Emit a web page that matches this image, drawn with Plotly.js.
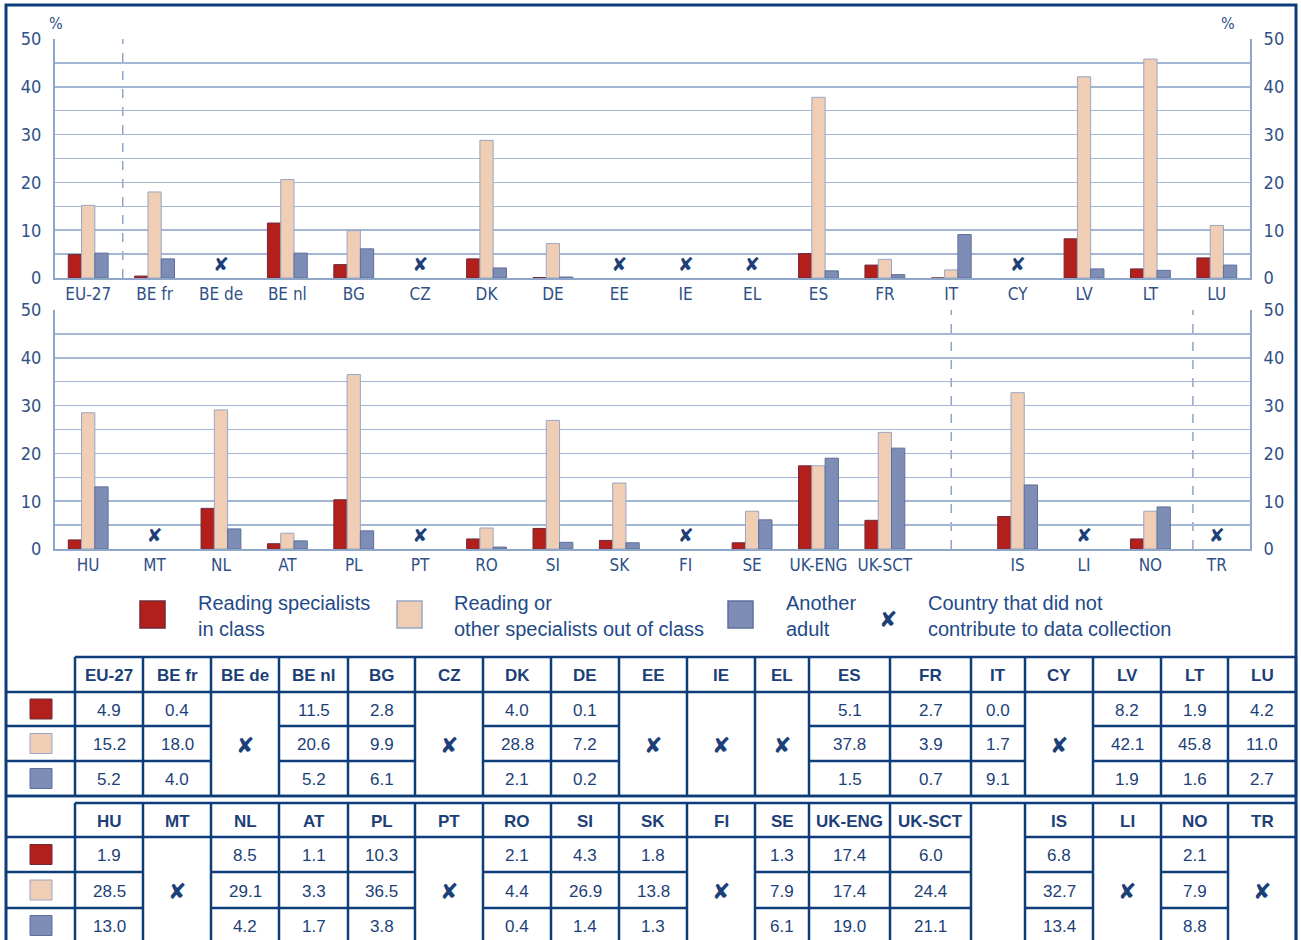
<!DOCTYPE html>
<html><head><meta charset="utf-8">
<script src="https://cdn.plot.ly/plotly-3.0.1.min.js"></script>
<style>html,body{margin:0;padding:0;background:#fff}#chart{width:1301px;height:940px}</style>
</head><body><div id="chart"></div>
<script>
// ---------------- DATA ----------------
const seriesNames = ["Reading specialists<br>in class", "Reading or<br>other specialists out of class", "Another<br>adult"];
const missingLabel = "Country that did not<br>contribute to data collection";

const catsTop = ["EU-27","BE fr","BE de","BE nl","BG","CZ","DK","DE","EE","IE","EL","ES","FR","IT","CY","LV","LT","LU"];
const inClassTop  = [4.9, 0.4, null, 11.5, 2.8, null, 4.0, 0.1, null, null, null, 5.1, 2.7, 0.0, null, 8.2, 1.9, 4.2];
const outClassTop = [15.2, 18.0, null, 20.6, 9.9, null, 28.8, 7.2, null, null, null, 37.8, 3.9, 1.7, null, 42.1, 45.8, 11.0];
const adultTop    = [5.2, 4.0, null, 5.2, 6.1, null, 2.1, 0.2, null, null, null, 1.5, 0.7, 9.1, null, 1.9, 1.6, 2.7];

// "" marks the empty separator slot
const catsBot = ["HU","MT","NL","AT","PL","PT","RO","SI","SK","FI","SE","UK-ENG","UK-SCT","","IS","LI","NO","TR"];
const inClassBot  = [1.9, null, 8.5, 1.1, 10.3, null, 2.1, 4.3, 1.8, null, 1.3, 17.4, 6.0, null, 6.8, null, 2.1, null];
const outClassBot = [28.5, null, 29.1, 3.3, 36.5, null, 4.4, 26.9, 13.8, null, 7.9, 17.4, 24.4, null, 32.7, null, 7.9, null];
const adultBot    = [13.0, null, 4.2, 1.7, 3.8, null, 0.4, 1.4, 1.3, null, 6.1, 19.0, 21.1, null, 13.4, null, 8.8, null];

const yTicks = [0, 10, 20, 30, 40, 50];

// ---------------- STYLE ----------------
const W = 1301, H = 940;
const px = x => x / W, py = y => 1 - y / H;
const fillColors = ["#b3201c", "#f0cdb5", "#7d8db5"];
const edgeColors = ["#6e2a3a", "#9aa6c2", "#5d6f9a"];
const navy = "#0d3e7a";
const textNavy = "#1d3f78";
const axisText = "#2f5187";
const gridCol = "#a3b7d4";
const narrow = "'DejaVu Sans Condensed', 'Liberation Sans Narrow', 'Roboto Condensed', sans-serif";
const sans = "'Liberation Sans', Arial, sans-serif";
const XMARK = "\u2718";

const panels = [
  {cats: catsTop, series: [inClassTop, outClassTop, adultTop], xa: "x", ya: "y", yr: "y3", top: 39, bot: 278, dashes: [0.52]},
  {cats: catsBot, series: [inClassBot, outClassBot, adultBot], xa: "x2", ya: "y2", yr: "y4", top: 310, bot: 549, dashes: [13.0, 16.64]}
];

const data = [];
const shapes = [];
const annotations = [];
const note = (x, y, text, font, extra) => annotations.push(Object.assign({xref: "paper", yref: "paper", x: px(x), y: py(y),
  xanchor: "center", yanchor: "middle", text: text, showarrow: false, font: font}, extra || {}));

panels.forEach(p => {
  const idx = p.cats.map((_, i) => i);
  p.series.forEach((vals, s) => {
    data.push({type: "bar", x: idx, y: vals, xaxis: p.xa, yaxis: p.ya, name: seriesNames[s],
      marker: {color: fillColors[s], line: {color: edgeColors[s], width: 1}}, hoverinfo: "skip", showlegend: false});
  });
  const miss = idx.filter(i => p.cats[i] !== "" && p.series.every(v => v[i] === null));
  data.push({type: "scatter", mode: "text", x: miss, y: miss.map(() => 2.5), text: miss.map(() => XMARK),
    textfont: {family: "DejaVu Sans", size: 19, color: textNavy}, xaxis: p.xa, yaxis: p.ya, hoverinfo: "skip", showlegend: false});
  data.push({type: "scatter", x: [null], y: [null], xaxis: p.xa, yaxis: p.yr, hoverinfo: "skip", showlegend: false});
  p.dashes.forEach(d => shapes.push({type: "line", xref: p.xa, yref: p.ya, x0: d, x1: d, y0: 0, y1: 50, layer: "below",
    line: {color: "#8ea6c8", width: 1.5, dash: "dash"}}));
});

// % labels
note(56, 23, "%", {family: narrow, size: 16, color: axisText});
note(1228, 23, "%", {family: narrow, size: 16, color: axisText});

// ---------------- LEGEND ----------------
const legSq = [140, 397, 728];
const legTx = [196, 452, 784];
const legFont = {family: sans, size: 20, color: "#1f4a88"};
seriesNames.forEach((n, s) => {
  shapes.push({type: "rect", xref: "paper", yref: "paper", x0: px(legSq[s]), x1: px(legSq[s] + 25), y0: py(601), y1: py(628),
    fillcolor: fillColors[s], line: {color: edgeColors[s], width: 1.5}});
  note(legTx[s], 616, n, legFont, {xanchor: "left", align: "left"});
});
note(888, 619, XMARK, {family: "DejaVu Sans", size: 22, color: textNavy});
note(926, 616, missingLabel, legFont, {xanchor: "left", align: "left"});

// ---------------- TABLE ----------------
const colEdges = [75,143,211,279,348,415,483,551,619,687,755,809,890,971,1025,1093,1161,1228,1296];
const tables = [
  {p: panels[0], rows: [657, 692, 726, 761, 796]},
  {p: panels[1], rows: [803, 837, 872, 908, 943]}
];
const lw = 2.5;
const L = (x0, y0, x1, y1) => shapes.push({type: "line", xref: "paper", yref: "paper", x0: px(x0), y0: py(y0), x1: px(x1), y1: py(y1),
  line: {color: navy, width: lw}});
const cellFont = {family: sans, size: 17, color: textNavy};
const xFont = {family: "DejaVu Sans", size: 22, color: textNavy};

tables.forEach(t => {
  const r = t.rows, cats = t.p.cats, ser = t.p.series;
  L(colEdges[0], r[0], colEdges[colEdges.length - 1], r[0]);
  for (let k = 1; k <= 4; k++) L(6, r[k], colEdges[0], r[k]);
  colEdges.forEach(e => L(e, r[0], e, r[4]));
  for (let s = 0; s < 3; s++) {
    const cy = (r[s + 1] + r[s + 2]) / 2;
    shapes.push({type: "rect", xref: "paper", yref: "paper", x0: px(30), x1: px(52), y0: py(cy - 10), y1: py(cy + 10),
      fillcolor: fillColors[s], line: {color: edgeColors[s], width: 1}});
  }
  cats.forEach((c, i) => {
    if (c === "") return;
    const x0 = colEdges[i], x1 = colEdges[i + 1], cx = (x0 + x1) / 2;
    const missing = ser.every(v => v[i] === null);
    L(x0, r[1], x1, r[1]);
    L(x0, r[4], x1, r[4]);
    note(cx, (r[0] + r[1]) / 2 + 1, "<b>" + c + "</b>", cellFont);
    if (missing) {
      note(cx, (r[1] + r[4]) / 2 + 1, XMARK, xFont);
    } else {
      L(x0, r[2], x1, r[2]);
      L(x0, r[3], x1, r[3]);
      ser.forEach((v, s) => note(cx, (r[s + 1] + r[s + 2]) / 2 + 1, v[i].toFixed(1), cellFont));
    }
  });
});
L(6, 796, 1296, 796);
shapes.push({type: "rect", xref: "paper", yref: "paper", x0: px(6), x1: px(1296), y0: py(5), y1: py(950), line: {color: navy, width: 3}});

// ---------------- AXES ----------------
const xdom = [px(55), px(1250)];
function xAxis(p, anchor) {
  return {domain: xdom, anchor: anchor, range: [-0.5, 17.5], tickmode: "array", tickvals: p.cats.map((_, i) => i), ticktext: p.cats,
    showgrid: false, zeroline: false, showline: true, linecolor: "#8ea6c8", linewidth: 2, ticks: "",
    tickfont: {family: narrow, size: 17, color: axisText}, fixedrange: true};
}
function yAxis(p, anchor, extra) {
  return Object.assign({domain: [py(p.bot), py(p.top)], anchor: anchor, range: [0, 50], tickmode: "array", tickvals: yTicks,
    showgrid: true, gridcolor: gridCol, gridwidth: 1.5, zeroline: false, showline: true, linecolor: "#8ea6c8", linewidth: 2,
    minor: {dtick: 5, tick0: 0, showgrid: true, gridcolor: gridCol, gridwidth: 1.5}, ticks: "", ticklabelstandoff: 8,
    tickfont: {family: narrow, size: 18, color: axisText}, fixedrange: true}, extra || {});
}

const layout = {
  width: W, height: H, margin: {l: 0, r: 0, t: 0, b: 0}, paper_bgcolor: "#fff", plot_bgcolor: "#fff",
  showlegend: false, barmode: "group", bargap: 0.4, bargroupgap: 0,
  xaxis: xAxis(panels[0], "y"),
  xaxis2: xAxis(panels[1], "y2"),
  yaxis: yAxis(panels[0], "x"),
  yaxis2: yAxis(panels[1], "x2"),
  yaxis3: yAxis(panels[0], "x", {overlaying: "y", side: "right", showgrid: false, minor: {showgrid: false}}),
  yaxis4: yAxis(panels[1], "x2", {overlaying: "y2", side: "right", showgrid: false, minor: {showgrid: false}}),
  shapes: shapes, annotations: annotations
};

Plotly.newPlot("chart", data, layout, {staticPlot: true});
</script>
</body></html>
